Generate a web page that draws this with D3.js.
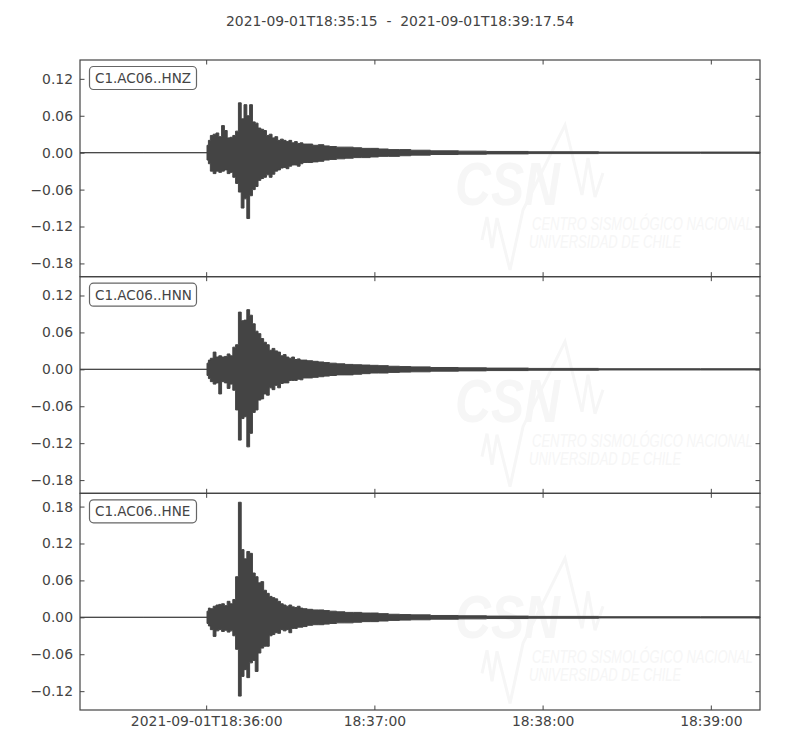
<!DOCTYPE html>
<html>
<head>
<meta charset="utf-8">
<script src="https://d3js.org/d3.v7.min.js"></script>
<style>
  body { margin: 0; background: #fff; }
  svg { display: block; font-family: "DejaVu Sans", sans-serif; }
</style>
</head>
<body>
<div id="draw"></div>
<script>
// tiempo de la traza
var startTime = new Date("2021-09-01T18:35:15Z");
var endTime = new Date("2021-09-01T18:39:17.54Z");
var titleText = "2021-09-01T18:35:15  -  2021-09-01T18:39:17.54";

var channels = ["C1.AC06..HNZ", "C1.AC06..HNN", "C1.AC06..HNE"];

// segundos desde el inicio, nodos de la envolvente
var knotSec = [0, 45, 45.6,
    46, 47, 48, 49, 50, 51, 52, 53, 54, 55, 56, 57, 58, 59, 60, 61, 62, 63, 64, 65,
    66, 67, 68, 69, 70, 71, 72, 73, 74, 75, 76, 77, 78, 79, 80,
    82, 84, 86, 88, 90,
    93, 96, 99, 102, 105, 108,
    112, 116, 120,
    130, 140, 150, 170, 200, 242.54];

// envolvente superior / inferior (m/s2) por canal
var hnzTop = [0, 0, 0.012,
    0.02, 0.028, 0.03, 0.032, 0.026, 0.044, 0.036, 0.024, 0.025, 0.028, 0.035, 0.081, 0.055, 0.078, 0.06, 0.078, 0.05, 0.048, 0.04, 0.038,
    0.036, 0.028, 0.03, 0.024, 0.026, 0.02, 0.022, 0.02, 0.018, 0.02, 0.016, 0.018, 0.015, 0.016, 0.014,
    0.014, 0.012, 0.013, 0.011, 0.01,
    0.009, 0.009, 0.008, 0.007, 0.007, 0.006,
    0.005, 0.005, 0.004,
    0.003, 0.0025, 0.002, 0.0015, 0.001, 0.001];
var hnzBot = [0, 0, -0.012,
    -0.018, -0.03, -0.034, -0.03, -0.032, -0.03, -0.028, -0.034, -0.032, -0.04, -0.05, -0.064, -0.09, -0.075, -0.107, -0.07, -0.06, -0.055, -0.045, -0.042,
    -0.04, -0.036, -0.04, -0.035, -0.03, -0.028, -0.025, -0.024, -0.026, -0.022, -0.02, -0.02, -0.022, -0.018, -0.016,
    -0.016, -0.015, -0.014, -0.012, -0.011,
    -0.01, -0.009, -0.008, -0.008, -0.007, -0.006,
    -0.006, -0.005, -0.004,
    -0.003, -0.0025, -0.002, -0.0015, -0.001, -0.001];

var hnnTop = [0, 0, 0.01,
    0.015, 0.018, 0.028, 0.02, 0.022, 0.02, 0.021, 0.025, 0.022, 0.036, 0.04, 0.093, 0.079, 0.08, 0.097, 0.088, 0.074, 0.062, 0.058, 0.05,
    0.044, 0.04, 0.031, 0.034, 0.03, 0.028, 0.022, 0.024, 0.02, 0.018, 0.02, 0.016, 0.017, 0.015, 0.015,
    0.014, 0.013, 0.012, 0.011, 0.01,
    0.009, 0.008, 0.0075, 0.007, 0.0065, 0.006,
    0.005, 0.0045, 0.004,
    0.003, 0.0025, 0.002, 0.0015, 0.001, 0.001];
var hnnBot = [0, 0, -0.01,
    -0.015, -0.02, -0.024, -0.022, -0.04, -0.02, -0.022, -0.031, -0.024, -0.034, -0.066, -0.115, -0.08, -0.077, -0.126, -0.104, -0.07, -0.066, -0.05, -0.048,
    -0.04, -0.042, -0.03, -0.033, -0.026, -0.03, -0.023, -0.022, -0.022, -0.018, -0.018, -0.018, -0.016, -0.017, -0.014,
    -0.014, -0.013, -0.012, -0.011, -0.01,
    -0.009, -0.009, -0.008, -0.007, -0.006, -0.006,
    -0.005, -0.0045, -0.004,
    -0.003, -0.0025, -0.002, -0.0015, -0.001, -0.001];

var hneTop = [0, 0, 0.01,
    0.015, 0.014, 0.018, 0.02, 0.021, 0.022, 0.019, 0.026, 0.022, 0.029, 0.066, 0.187, 0.11, 0.095, 0.107, 0.104, 0.072, 0.066, 0.056, 0.058,
    0.044, 0.039, 0.034, 0.032, 0.03, 0.026, 0.022, 0.02, 0.018, 0.02, 0.017, 0.016, 0.018, 0.015, 0.014,
    0.013, 0.012, 0.012, 0.011, 0.01,
    0.009, 0.008, 0.008, 0.007, 0.007, 0.006,
    0.005, 0.0045, 0.004,
    0.003, 0.0025, 0.002, 0.0015, 0.001, 0.001];
var hneBot = [0, 0, -0.01,
    -0.014, -0.02, -0.031, -0.022, -0.02, -0.023, -0.021, -0.024, -0.022, -0.03, -0.052, -0.128, -0.096, -0.085, -0.098, -0.074, -0.07, -0.088, -0.058, -0.05,
    -0.047, -0.047, -0.03, -0.028, -0.025, -0.026, -0.02, -0.022, -0.02, -0.025, -0.018, -0.018, -0.016, -0.016, -0.015,
    -0.013, -0.012, -0.012, -0.011, -0.01,
    -0.009, -0.009, -0.008, -0.007, -0.007, -0.006,
    -0.005, -0.0045, -0.004,
    -0.003, -0.0025, -0.002, -0.0015, -0.001, -0.001];

var tops = [hnzTop, hnnTop, hneTop];
var bots = [hnzBot, hnnBot, hneBot];

// ejes y
var yDomains = [[-0.2015, 0.1506], [-0.2015, 0.1506], [-0.1506, 0.2015]];
var yTicks = [
    [-0.18, -0.12, -0.06, 0, 0.06, 0.12],
    [-0.18, -0.12, -0.06, 0, 0.06, 0.12],
    [-0.12, -0.06, 0, 0.06, 0.12, 0.18]
];

var wmLines = ["CENTRO SISMOLÓGICO NACIONAL", "UNIVERSIDAD DE CHILE"];

//tamaño
var W = 800, H = 750;
var left = 80, right = 760, top0 = 60, bottom0 = 710;
var panelH = (bottom0 - top0) / 3;
var ink = "#444";
var wmColor = "#f6f6f6";
var fontSize = "13.9px";

var svg = d3.select("#draw")
    .append("svg")
    .attr("width", W)
    .attr("height", H);

//titulo
svg.append("text")
    .attr("x", 400)
    .attr("y", 26)
    .attr("text-anchor", "middle")
    .attr("font-size", fontSize)
    .attr("fill", ink)
    .style("white-space", "pre")
    .text(titleText);

var x = d3.scaleUtc()
    .domain([startTime, endTime])
    .range([left, right]);

var xTicks = d3.utcMinute.range(startTime, endTime);
var fmtFirst = d3.utcFormat("%Y-%m-%dT%H:%M:%S");
var fmtRest = d3.utcFormat("%H:%M:%S");

function secToDate(s) {
    return new Date(startTime.getTime() + s * 1000);
}

channels.forEach(function (ch, i) {
    var pTop = top0 + i * panelH;
    var pBot = pTop + panelH;
    var y = d3.scaleLinear().domain(yDomains[i]).range([pBot, pTop]);
    var g = svg.append("g");

    // marca de agua CSN
    var wm = g.append("g").attr("fill", wmColor).attr("stroke", "none");
    wm.append("text")
        .attr("x", 455).attr("y", pTop + 145)
        .attr("font-size", "62px").attr("font-weight", "bold").attr("font-style", "italic")
        .attr("font-family", "Liberation Sans, sans-serif")
        .attr("textLength", 105).attr("lengthAdjust", "spacingAndGlyphs")
        .text("CSN");
    wm.append("polyline")
        .attr("points", [[482, 180], [487, 157], [492, 188], [497, 158], [510, 210], [523, 150],
            [565, 65], [582, 135], [588, 98], [595, 137], [603, 113]]
            .map(function (p) { return p[0] + "," + (pTop + p[1]); }).join(" "))
        .attr("fill", "none").attr("stroke", wmColor).attr("stroke-width", 3);
    wmLines.forEach(function (t, k) {
        var tx = k === 0 ? 532 : 529;
        var ty = pTop + (k === 0 ? 170 : 188);
        wm.append("text")
            .attr("transform", "translate(" + tx + "," + ty + ") scale(1,1.4)")
            .attr("font-size", "13px").attr("font-style", "italic")
            .attr("font-family", "Liberation Sans, sans-serif")
            .text(t);
    });

    // forma de onda
    var data = knotSec.map(function (s, k) {
        return { t: secToDate(s), hi: tops[i][k], lo: bots[i][k] };
    });
    var area = d3.area()
        .curve(d3.curveStep)
        .x(function (d) { return x(d.t); })
        .y0(function (d) { return y(d.lo); })
        .y1(function (d) { return y(d.hi); });
    g.append("path")
        .datum(data)
        .attr("d", area)
        .attr("fill", ink)
        .attr("stroke", ink)
        .attr("stroke-width", 1);

    // ejes
    var ax = g.append("g");
    ax.append("g").attr("transform", "translate(" + left + ",0)")
        .call(d3.axisLeft(y).tickValues(yTicks[i]).tickFormat(d3.format(".2f")).tickSize(-4.5).tickPadding(7));
    ax.append("g").attr("transform", "translate(" + right + ",0)")
        .call(d3.axisRight(y).tickValues(yTicks[i]).tickFormat("").tickSize(-4.5));
    ax.append("g").attr("transform", "translate(0," + pTop + ")")
        .call(d3.axisTop(x).tickValues(xTicks).tickFormat("").tickSize(-4.5));
    ax.append("g").attr("transform", "translate(0," + pBot + ")")
        .call(d3.axisBottom(x).tickValues(xTicks).tickSize(-4.5).tickPadding(6)
            .tickFormat(function (d, k) {
                if (i < channels.length - 1) return "";
                return k === 0 ? fmtFirst(d) : fmtRest(d);
            }));
    ax.selectAll(".domain").remove();
    ax.selectAll(".tick line").attr("stroke", ink);
    ax.selectAll(".tick text")
        .attr("fill", ink)
        .attr("font-size", fontSize)
        .attr("font-family", "DejaVu Sans");

    // marco
    g.append("rect")
        .attr("x", left).attr("y", pTop)
        .attr("width", right - left).attr("height", panelH)
        .attr("fill", "none").attr("stroke", ink).attr("stroke-width", 1.2);

    // etiqueta del canal
    var lab = g.append("g");
    lab.append("rect")
        .attr("x", left + 9.5).attr("y", pTop + 6.5)
        .attr("width", 107).attr("height", 23)
        .attr("rx", 4).attr("ry", 4)
        .attr("fill", "#fff").attr("stroke", "#666").attr("stroke-width", 1.2);
    lab.append("text")
        .attr("x", left + 15).attr("y", pTop + 23)
        .attr("font-size", "13.5px")
        .attr("fill", ink)
        .text(ch);
});
</script>
</body>
</html>
